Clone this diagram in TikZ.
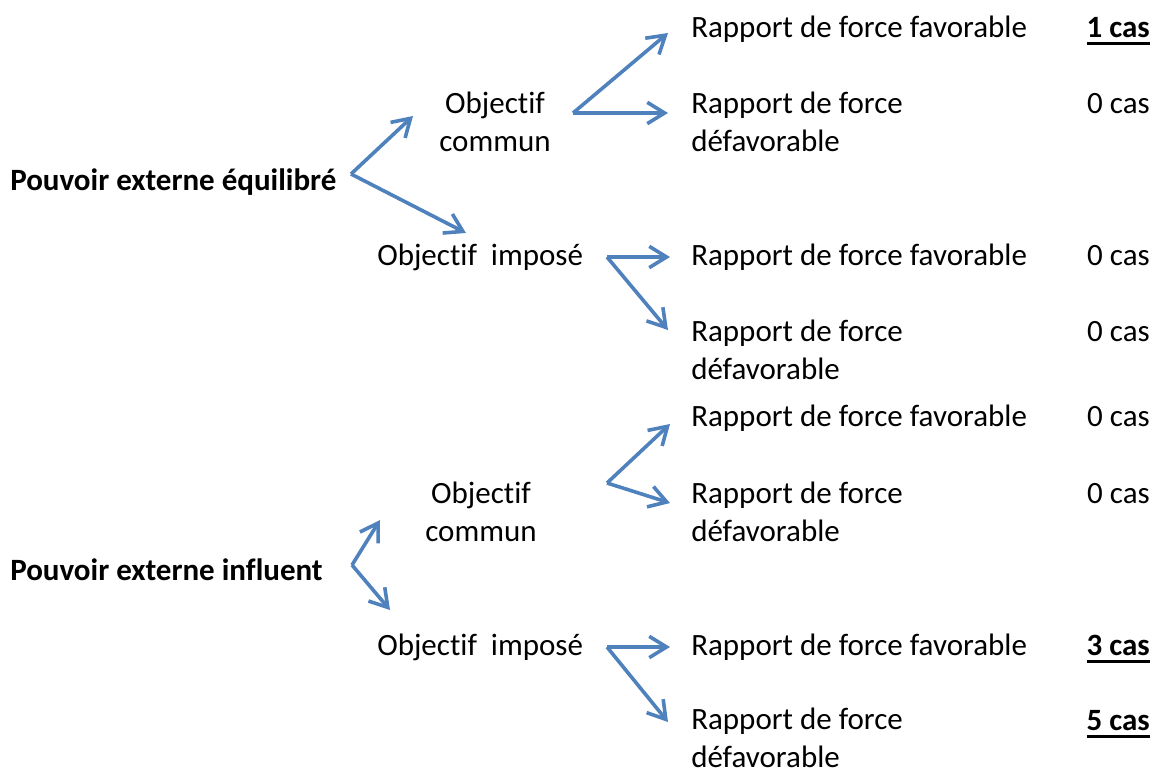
\documentclass[tikz,border=0pt]{standalone}
\usepackage{fontspec}
\setmainfont[Ligatures=NoCommon]{Carlito}
\usepackage{tikz}
\usetikzlibrary{arrows.meta}
\definecolor{cBranch}{RGB}{79,129,189}
\newcommand{\ulcas}[1]{\begingroup\setbox0\hbox{#1}\leavevmode\rlap{\vrule height -3.6pt depth 5.9pt width \wd0}\box0\endgroup}
\tikzset{
	lbl/.style ={inner sep=0pt, anchor=base west, align=left},
	mid/.style ={inner sep=0pt, anchor=base, align=center},
	cnt/.style ={inner sep=0pt, anchor=base east},
	br/.style  ={-{Straight Barb[length=13pt, width=16pt]}, line width=2.7pt, draw=cBranch},
}
\begin{document}
\begin{tikzpicture}[x=0.75pt, y=-0.75pt, font=\fontsize{23.25}{28.5}\selectfont]
					\useasboundingbox (0,0) rectangle (1156,772);
					% upper tree
					\node[lbl, font=\fontsize{23.25}{28.5}\selectfont\bfseries] (eq) at (10,190) {Pouvoir externe équilibré};
					\node[mid] (eqc) at (495,151) {Objectif\\ commun};
					\node[lbl] (eqi) at (377,265) {Objectif~ imposé};
					\node[lbl] (r1) at (691,37) {Rapport de force favorable};
					\node[lbl] (r2) at (691,151) {Rapport de force\\ défavorable};
					\node[lbl] (r3) at (691,265) {Rapport de force favorable};
					\node[lbl] (r4) at (691,379) {Rapport de force\\ défavorable};
					\node[cnt] (n1) at (1150,37) {\bfseries\ulcas{1 cas}};
					\node[cnt] (n2) at (1150,113) {0 cas};
					\node[cnt] (n3) at (1150,265) {0 cas};
					\node[cnt] (n4) at (1150,341) {0 cas};
					% lower tree
					\node[lbl, font=\fontsize{23.25}{28.5}\selectfont\bfseries] (in) at (10,580) {Pouvoir externe influent};
					\node[mid] (inc) at (481,541) {Objectif\\ commun};
					\node[lbl] (ini) at (377,655) {Objectif~ imposé};
					\node[lbl] (r5) at (691,426) {Rapport de force favorable};
					\node[lbl] (r6) at (691,541) {Rapport de force\\ défavorable};
					\node[lbl] (r7) at (691,655) {Rapport de force favorable};
					\node[lbl] (r8) at (691,767) {Rapport de force\\ défavorable};
					\node[cnt] (n5) at (1150,426) {0 cas};
					\node[cnt] (n6) at (1150,503) {0 cas};
					\node[cnt] (n7) at (1150,655) {\bfseries\ulcas{3 cas}};
					\node[cnt] (n8) at (1150,730) {\bfseries\ulcas{5 cas}};
					% fork points and arrow ends
					\coordinate (fEq) at (351,174);
					\coordinate (fEqC) at (573,113);
					\coordinate (fEqI) at (607,257);
					\coordinate (fIn) at (352,565);
					\coordinate (fInC) at (607,483);
					\coordinate (fInI) at (607,647);
					\coordinate (tEqC) at (413,116);
					\coordinate (tEqI) at (466,233);
					\coordinate (tR1) at (668,33);
					\coordinate (tR2) at (668,113);
					\coordinate (tR3) at (670,257);
					\coordinate (tR4) at (668,330);
					\coordinate (tInC) at (380,520);
					\coordinate (tInI) at (390,610);
					\coordinate (tR5) at (670,424);
					\coordinate (tR6) at (670,503);
					\coordinate (tR7) at (670,647);
					\coordinate (tR8) at (668,722);
					\draw[br] (fEq) -- (tEqC);
					\draw[br] (fEq) -- (tEqI);
					\draw[br] (fEqC) -- (tR1);
					\draw[br] (fEqC) -- (tR2);
					\draw[br] (fEqI) -- (tR3);
					\draw[br] (fEqI) -- (tR4);
					\draw[br] (fIn) -- (tInC);
					\draw[br] (fIn) -- (tInI);
					\draw[br] (fInC) -- (tR5);
					\draw[br] (fInC) -- (tR6);
					\draw[br] (fInI) -- (tR7);
					\draw[br] (fInI) -- (tR8);
				\end{tikzpicture}
\end{document}
